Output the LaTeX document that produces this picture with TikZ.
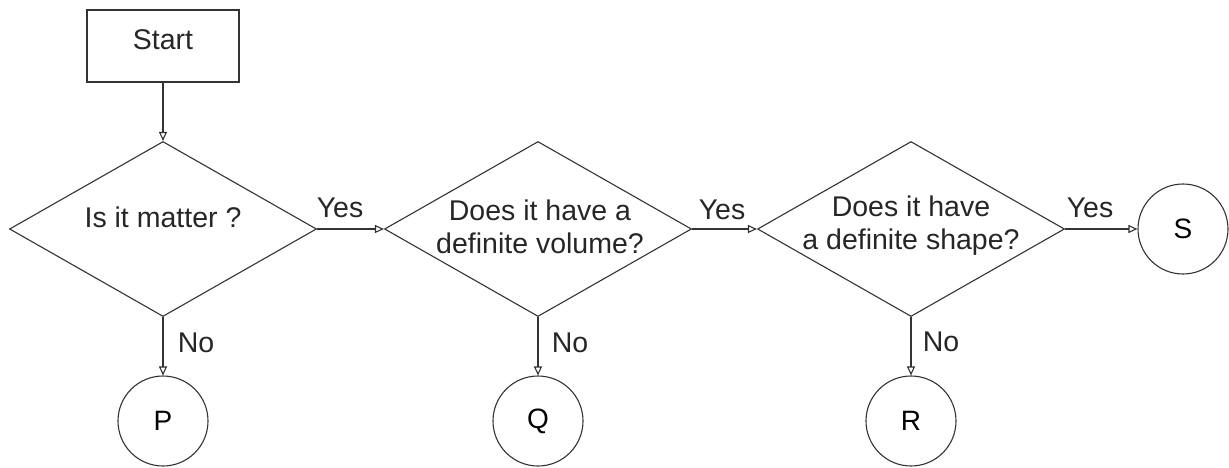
\documentclass[tikz,border=0pt]{standalone}
\usepackage{fontspec}
\setmainfont{Liberation Sans}
\usetikzlibrary{shapes.geometric,arrows.meta}
\begin{document}
\begin{tikzpicture}[x=1pt,y=-1pt,
  line/.style={draw=black!80, line width=1.1pt},
  conn/.style={line, -{Triangle[open,length=9pt,width=8pt]}},
  decision/.style={line, diamond, minimum width=307pt, minimum height=175pt, inner sep=0pt},
  terminal/.style={line, circle, minimum size=90pt, inner sep=0pt, font=\fontsize{28}{33}\selectfont},
  startbox/.style={line, rectangle, minimum width=152pt, minimum height=72pt, inner sep=0pt},
  txt/.style={font=\fontsize{28.5}{33}\selectfont, align=center, inner sep=0pt, text=black!85}
]
\useasboundingbox (0,0) rectangle (1229,468);
% nodes
\node[startbox] (start) at (163,46) {};
\node[txt] (starttext) at (163,40) {Start};

\node[decision] (d1) at (163,229) {};
\node[txt] (t1) at (163,217) {Is it matter ?};

\node[decision] (d2) at (538,229) {};
\node[txt] (t2) at (540,227) {Does it have a\\definite volume?};

\node[decision] (d3) at (911,229) {};
\node[txt] (t3) at (911,226) {Does it have\\a definite shape?};

\node[terminal] (P) at (163,421) {P};
\node[terminal] (Q) at (538,421) {Q};
\node[terminal] (R) at (911,421) {R};
\node[terminal] (S) at (1183,229) {S};

% connectors
\draw[conn] (start) -- (d1);
\draw[conn] (d1) -- (d2);
\draw[conn] (d2) -- (d3);
\draw[conn] (d3) -- (S);
\draw[conn] (d1) -- (P);
\draw[conn] (d2) -- (Q);
\draw[conn] (d3) -- (R);

% labels
\node[txt] (y1) at (340,208) {Yes};
\node[txt] (y2) at (722,210) {Yes};
\node[txt] (y3) at (1090,208) {Yes};
\node[txt] (n1) at (196,343) {No};
\node[txt] (n2) at (570,343) {No};
\node[txt] (n3) at (941,342) {No};
\end{tikzpicture}
\end{document}
